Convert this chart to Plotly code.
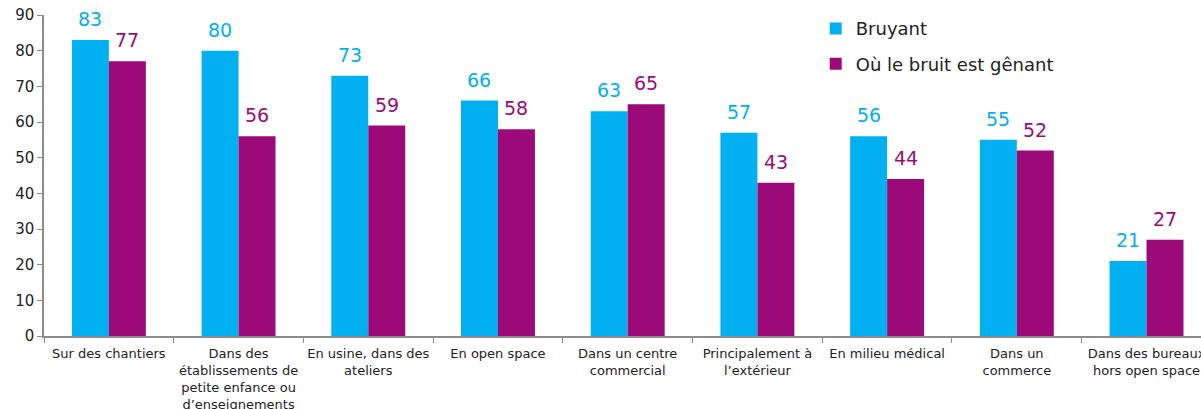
import plotly.graph_objects as go

categories = [
    "Sur des chantiers",
    "Dans des<br>établissements de<br>petite enfance ou<br>d’enseignements",
    "En usine, dans des<br>ateliers",
    "En open space",
    "Dans un centre<br>commercial",
    "Principalement à<br>l’extérieur",
    "En milieu médical",
    "Dans un<br>commerce",
    "Dans des bureaux<br>hors open space",
]
bruyant = [83, 80, 73, 66, 63, 57, 56, 55, 21]
genant = [77, 56, 59, 58, 65, 43, 44, 52, 27]
y_ticks = [0, 10, 20, 30, 40, 50, 60, 70, 80, 90]

BLUE = "#00B0F0"
PURPLE = "#9C0A7A"
FONT = "DejaVu Sans"
AXIS = "#8c8c8c"

fig = go.Figure()
fig.add_trace(go.Bar(
    x=categories, y=bruyant, name="Bruyant", marker_color=BLUE,
    marker_line_width=0, legendgroup="a",
))
fig.add_trace(go.Bar(
    x=categories, y=genant, name="Où le bruit est gênant", marker_color=PURPLE,
    marker_line_width=0, legendgroup="b",
))

# value labels above bars
for series, color, shift in [(bruyant, BLUE, -18.5), (genant, PURPLE, 18.5)]:
    for cat, val in zip(categories, series):
        fig.add_annotation(
            x=cat, y=val, text=str(val), showarrow=False,
            xref="x", yref="y", xanchor="center", yanchor="bottom",
            xshift=shift, yshift=8,
            font=dict(size=19, family=FONT, color=color),
        )

fig.update_layout(
    width=1201, height=409,
    margin=dict(l=44, r=0, t=15, b=73),
    paper_bgcolor="white", plot_bgcolor="white",
    barmode="group", bargap=0.43, bargroupgap=0,
    font=dict(family=FONT, color="#222222"),
    showlegend=True,
    legend=dict(x=0.667, y=1.015, xanchor="left", yanchor="top",
                font=dict(size=18, family=FONT, color="#222222"),
                tracegroupgap=9, bgcolor="rgba(0,0,0,0)"),
)
fig.update_xaxes(
    range=[-0.5, 8.42], showline=True, linecolor=AXIS, linewidth=1.5,
    ticks="outside", tickson="boundaries", ticklen=5, tickcolor=AXIS,
    tickfont=dict(size=13, family=FONT, color="#222222"), tickangle=0,
    ticklabelstandoff=5,
    showgrid=False, automargin=False,
)
fig.update_yaxes(
    range=[0, 90], tickvals=y_ticks, showline=True, linecolor=AXIS, linewidth=1.5,
    ticks="outside", ticklen=5, tickcolor=AXIS,
    tickfont=dict(size=15, family=FONT, color="#222222"),
    showgrid=False, zeroline=False, automargin=False,
)

fig.write_html(
    "out.html",
    config={"displayModeBar": False},
    post_script="document.body.style.margin='0';document.body.style.overflow='hidden';",
)
